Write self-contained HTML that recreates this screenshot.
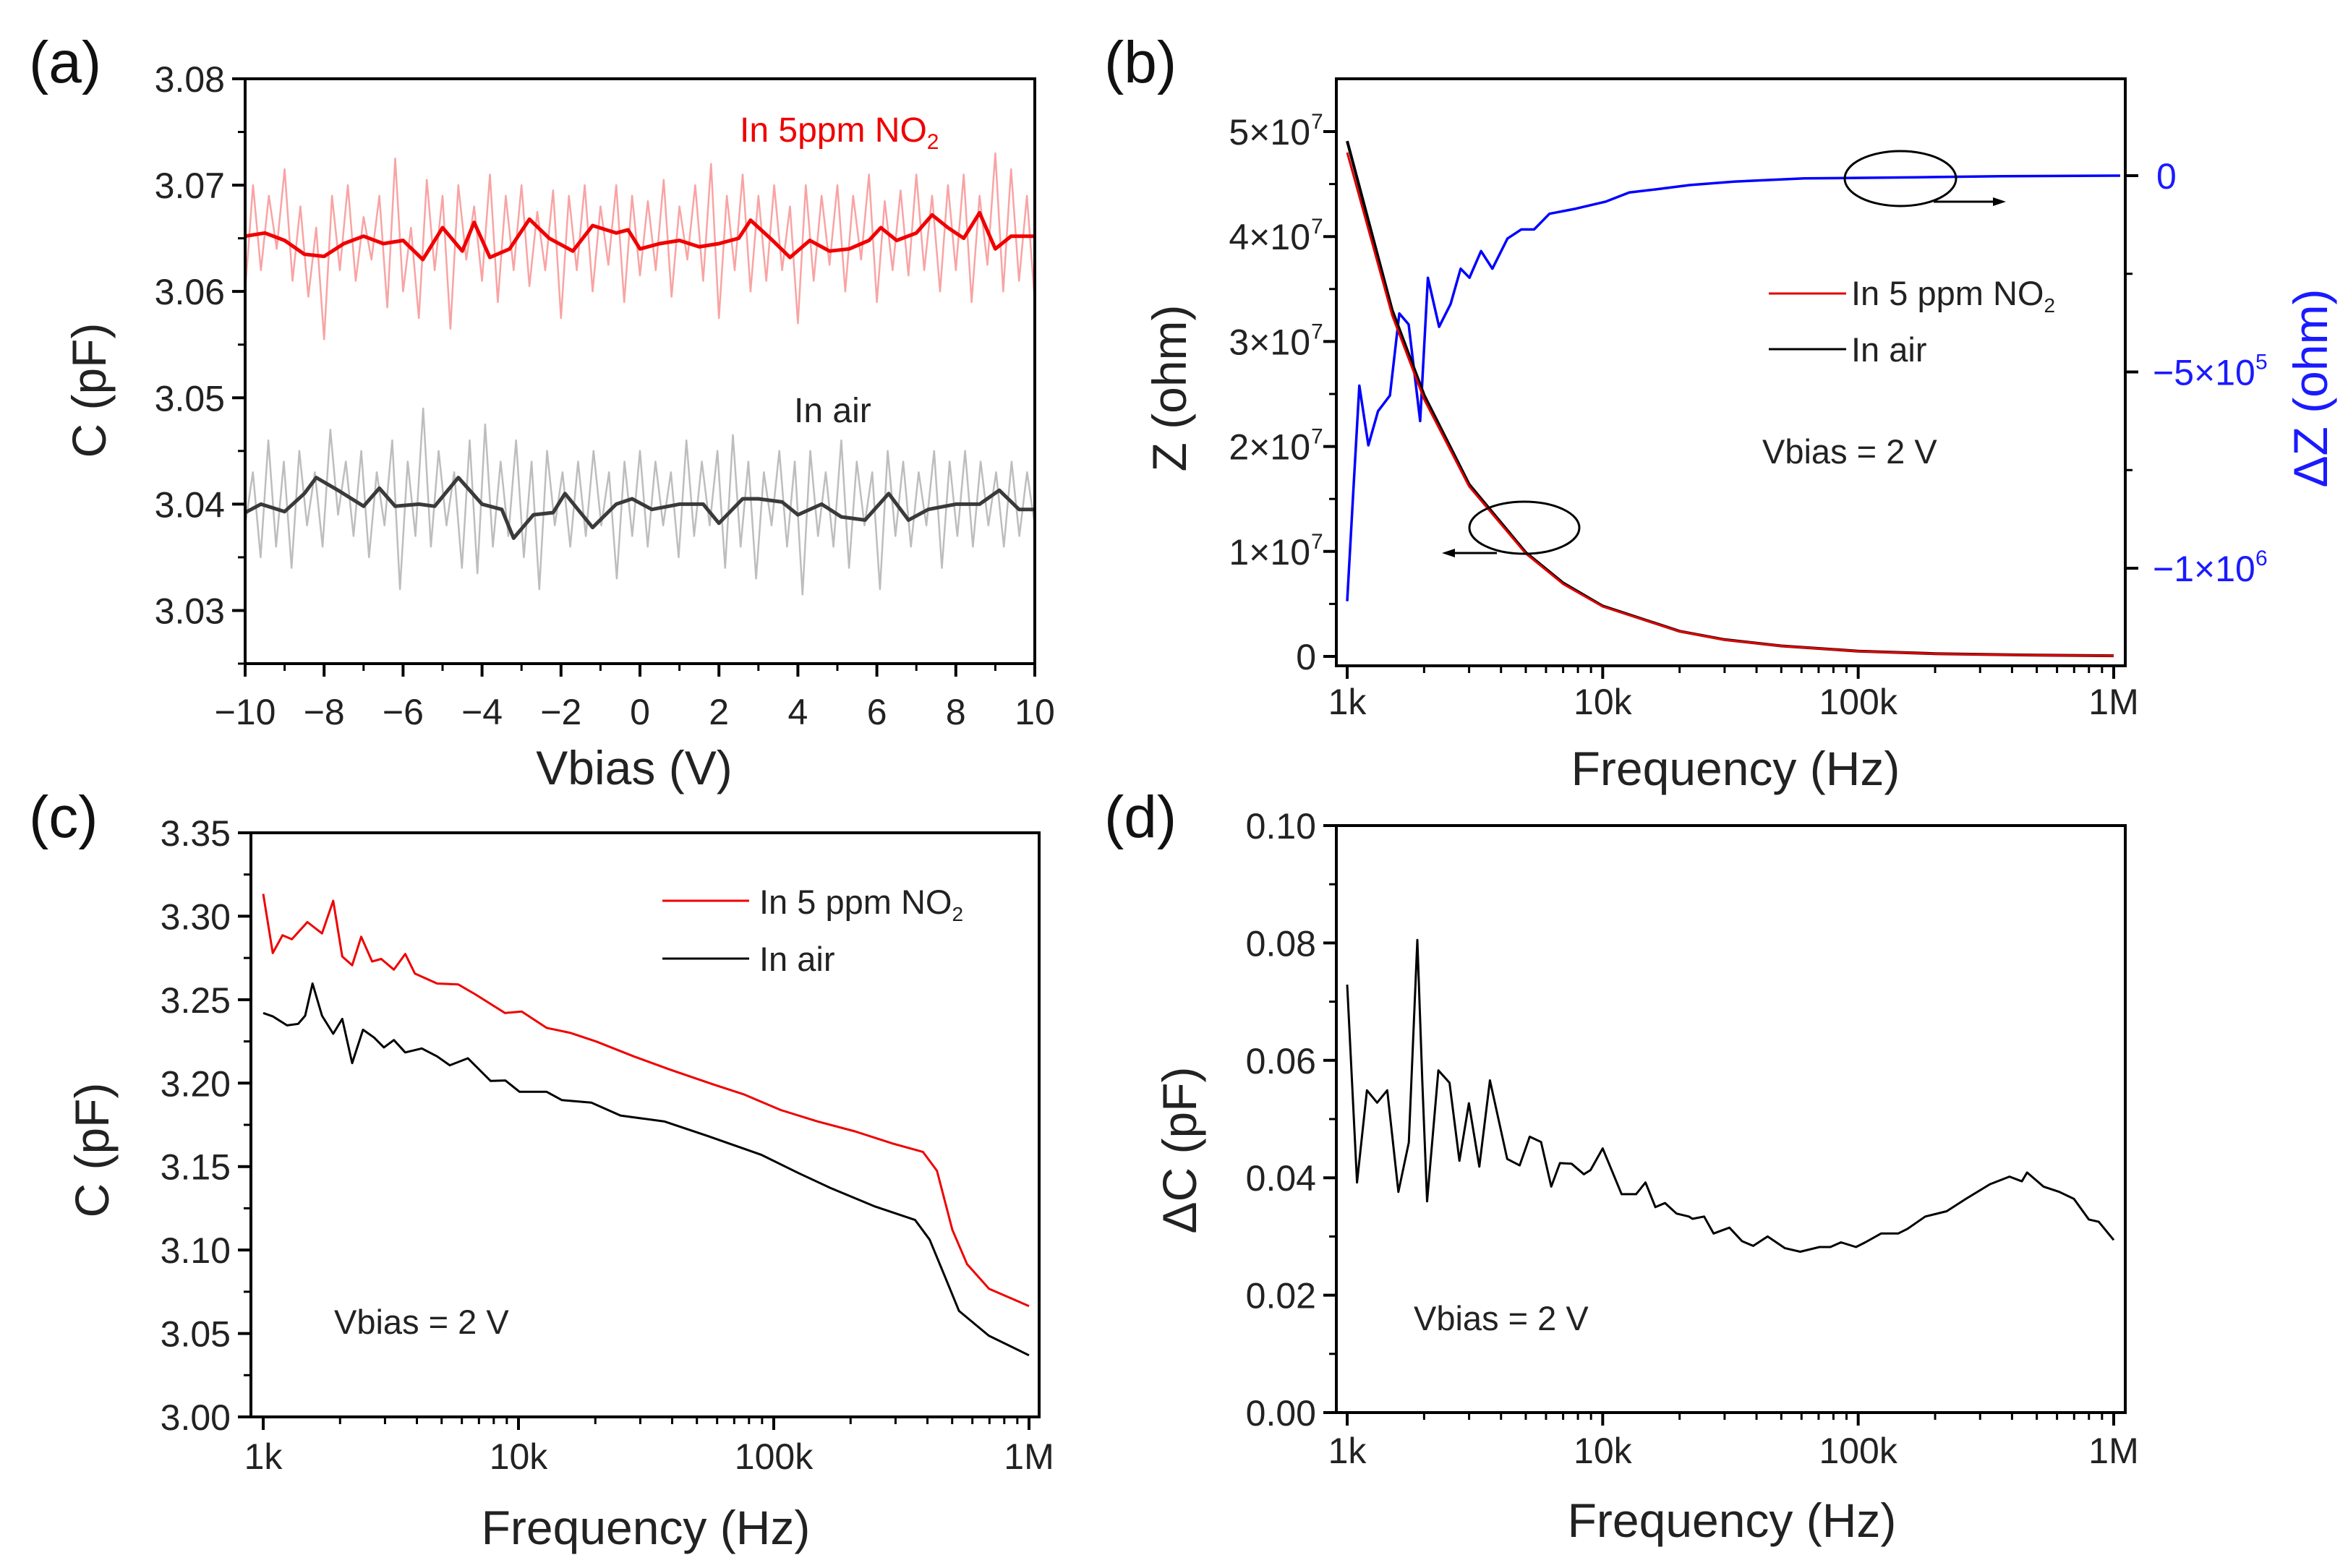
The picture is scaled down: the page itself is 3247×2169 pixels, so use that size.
<!DOCTYPE html>
<html><head><meta charset="utf-8"><style>
html,body{margin:0;padding:0;background:#fff;}
svg{display:block;}
text{font-family:"Liberation Sans",sans-serif;}
</style></head><body>
<svg id="fig" width="3247" height="2169" viewBox="0 0 3247 2169" xmlns="http://www.w3.org/2000/svg"></svg>
<script>
// ---------- Panel (a) data ----------
const aRedSmoothX=[-10,-9.5,-9,-8.5,-8,-7.5,-7,-6.5,-6,-5.5,-5,-4.5,-4.2,-3.8,-3.3,-2.8,-2.3,-1.7,-1.2,-0.6,-0.3,0,0.5,1,1.5,2,2.5,2.8,3.3,3.8,4.3,4.8,5.3,5.8,6.1,6.5,7,7.4,7.8,8.2,8.6,9,9.4,10];
const aRedSmoothY=[3.0652,3.0655,3.0648,3.0635,3.0633,3.0645,3.0652,3.0645,3.0648,3.0630,3.0660,3.0638,3.0665,3.0632,3.0640,3.0668,3.0650,3.0638,3.0662,3.0655,3.0658,3.0640,3.0645,3.0648,3.0642,3.0645,3.0650,3.0667,3.0650,3.0632,3.0648,3.0638,3.0640,3.0648,3.0660,3.0648,3.0655,3.0672,3.0660,3.0650,3.0674,3.0640,3.0652,3.0652];
const aAirSmoothX=[-10,-9.6,-9,-8.5,-8.2,-7.6,-7,-6.6,-6.2,-5.6,-5.2,-4.6,-4,-3.5,-3.2,-2.7,-2.2,-1.9,-1.2,-0.6,-0.2,0.3,1,1.6,2,2.6,3,3.6,4,4.6,5.1,5.7,6.3,6.8,7.3,8,8.6,9.1,9.6,10];
const aAirSmoothY=[3.0392,3.0400,3.0393,3.0410,3.0425,3.0412,3.0398,3.0415,3.0398,3.0400,3.0398,3.0425,3.0400,3.0395,3.0368,3.0390,3.0392,3.0410,3.0378,3.0400,3.0405,3.0395,3.0400,3.0400,3.0382,3.0405,3.0405,3.0402,3.0390,3.0400,3.0388,3.0385,3.0410,3.0385,3.0395,3.0400,3.0400,3.0413,3.0395,3.0395];
const aRedRaw=[3.0600,3.0700,3.0620,3.0690,3.0640,3.0715,3.0610,3.0680,3.0595,3.0660,3.0555,3.0690,3.0620,3.0700,3.0610,3.0670,3.0630,3.0690,3.0585,3.0725,3.0600,3.0660,3.0575,3.0705,3.0620,3.0690,3.0565,3.0700,3.0630,3.0680,3.0610,3.0710,3.0590,3.0690,3.0620,3.0700,3.0605,3.0675,3.0620,3.0695,3.0575,3.0690,3.0620,3.0700,3.0600,3.0680,3.0625,3.0700,3.0590,3.0690,3.0615,3.0685,3.0620,3.0705,3.0595,3.0680,3.0630,3.0700,3.0610,3.0720,3.0575,3.0690,3.0620,3.0710,3.0600,3.0690,3.0610,3.0700,3.0620,3.0680,3.0570,3.0700,3.0610,3.0690,3.0625,3.0700,3.0600,3.0690,3.0630,3.0710,3.0590,3.0685,3.0620,3.0695,3.0615,3.0710,3.0620,3.0690,3.0600,3.0700,3.0620,3.0710,3.0590,3.0690,3.0625,3.0730,3.0600,3.0715,3.0610,3.0690,3.0590];
const aAirRaw=[3.0380,3.0430,3.0350,3.0460,3.0360,3.0440,3.0340,3.0450,3.0380,3.0430,3.0360,3.0470,3.0390,3.0440,3.0370,3.0450,3.0350,3.0430,3.0380,3.0460,3.0320,3.0440,3.0370,3.0490,3.0360,3.0450,3.0380,3.0430,3.0340,3.0460,3.0335,3.0475,3.0360,3.0440,3.0370,3.0460,3.0350,3.0440,3.0320,3.0450,3.0380,3.0430,3.0360,3.0440,3.0370,3.0450,3.0380,3.0430,3.0330,3.0440,3.0370,3.0450,3.0360,3.0440,3.0380,3.0430,3.0350,3.0460,3.0370,3.0440,3.0380,3.0450,3.0340,3.0465,3.0360,3.0440,3.0330,3.0430,3.0380,3.0450,3.0360,3.0440,3.0315,3.0450,3.0370,3.0430,3.0360,3.0460,3.0340,3.0440,3.0380,3.0430,3.0320,3.0450,3.0370,3.0440,3.0360,3.0430,3.0380,3.0450,3.0340,3.0440,3.0370,3.0450,3.0360,3.0440,3.0380,3.0430,3.0360,3.0440,3.0370,3.0430,3.0380];
const aXTicks=[-10,-8,-6,-4,-2,0,2,4,6,8,10];
const aXLabels=["\u221210","\u22128","\u22126","\u22124","\u22122","0","2","4","6","8","10"];
const aYTicks=[3.03,3.04,3.05,3.06,3.07,3.08];
const aYLabels=["3.03","3.04","3.05","3.06","3.07","3.08"];

// ---------- Panel (b) data ----------
const bFreq=[1000,1500,2000,3000,5000,7000,10000,20000,30000,50000,100000,200000,500000,1000000];
const bZair=[4.91e7,3.3e7,2.49e7,1.64e7,9.9e6,7.0e6,4.8e6,2.4e6,1.6e6,1.0e6,5.0e5,2.6e5,1.2e5,6e4];
const bZno2=[4.80e7,3.25e7,2.45e7,1.62e7,9.8e6,6.9e6,4.75e6,2.38e6,1.58e6,9.9e5,4.9e5,2.5e5,1.1e5,5e4];
const bDzFreq=[1000,1056,1116,1210,1320,1470,1600,1740,1930,2070,2290,2540,2780,3010,3340,3700,4240,4800,5390,6190,7860,10300,12700,16100,21900,33000,61400,170000,364000,1060000];
const bDz=[-1.084e6,-8.06e5,-5.35e5,-6.87e5,-6.0e5,-5.6e5,-3.51e5,-3.79e5,-6.25e5,-2.6e5,-3.85e5,-3.27e5,-2.37e5,-2.6e5,-1.92e5,-2.37e5,-1.6e5,-1.37e5,-1.37e5,-9.7e4,-8.4e4,-6.6e4,-4.3e4,-3.5e4,-2.4e4,-1.5e4,-7e3,-4e3,-1.5e3,0];
const bYTicks=[0,1e7,2e7,3e7,4e7,5e7];
const bYMant=["0","1","2","3","4","5"];
const bRTicks=[0,-5e5,-1e6];

// ---------- Panel (c) data ----------
const cNo2F=[1000,1090,1190,1295,1490,1700,1880,2040,2230,2420,2670,2900,3250,3600,3930,4800,5810,6780,8860,10300,12900,15900,20200,28300,39400,58400,76300,106500,149000,208000,293000,384000,436000,501000,572000,697000,1000000];
const cNo2C=[3.3134,3.2779,3.2886,3.2862,3.2965,3.2897,3.3093,3.2759,3.2706,3.2877,3.2729,3.2744,3.2680,3.2774,3.2656,3.2597,3.2591,3.2532,3.2420,3.2429,3.2331,3.2302,3.2249,3.2160,3.2080,3.1991,3.1933,3.1839,3.1770,3.1711,3.1638,3.1588,3.1475,3.1121,3.0915,3.0768,3.0664];
const cAirF=[1000,1090,1240,1370,1460,1560,1700,1880,2040,2230,2460,2720,2970,3250,3600,4180,4800,5380,6340,7780,8880,10100,12900,14800,19300,25100,37400,55400,89600,125000,166000,247000,358000,408000,464000,532000,696000,1000000];
const cAirC=[3.2420,3.2400,3.2346,3.2355,3.2404,3.2597,3.2404,3.2296,3.2385,3.2120,3.2320,3.2273,3.2214,3.2258,3.2184,3.2208,3.2160,3.2107,3.2149,3.2013,3.2016,3.1948,3.1948,3.1898,3.1883,3.1806,3.1770,3.1682,3.1570,3.1461,3.1373,3.1263,3.1180,3.1062,3.0856,3.0635,3.0487,3.0369];
const cYTicks=[3.00,3.05,3.10,3.15,3.20,3.25,3.30,3.35];
const cYLabels=["3.00","3.05","3.10","3.15","3.20","3.25","3.30","3.35"];

// ---------- Panel (d) data ----------
const dF=[1000,1093,1195,1310,1435,1586,1742,1882,1970,2055,2275,2515,2750,2995,3290,3620,4230,4730,5180,5740,6290,6800,7550,8440,8960,10000,11860,13510,14700,16080,17530,19450,21740,22460,24940,27160,31340,35090,38840,44200,51690,59300,70580,77850,85640,98000,106600,122900,143300,156000,183000,222000,264000,328000,391000,437000,458000,531000,612000,699000,799000,874000,1000000];
const dDC=[0.0729,0.0392,0.0549,0.0528,0.0549,0.0376,0.0460,0.0805,0.0560,0.0360,0.0583,0.0562,0.0429,0.0527,0.0419,0.0566,0.0432,0.0421,0.0470,0.0461,0.0385,0.0425,0.0424,0.0406,0.0413,0.0450,0.0372,0.0372,0.0392,0.0350,0.0357,0.0339,0.0334,0.0330,0.0334,0.0305,0.0315,0.0292,0.0284,0.0300,0.0280,0.0274,0.0282,0.0282,0.0290,0.0282,0.0290,0.0305,0.0305,0.0313,0.0334,0.0343,0.0364,0.0389,0.0402,0.0394,0.0409,0.0385,0.0376,0.0364,0.0329,0.0325,0.0294];
const dYTicks=[0,0.02,0.04,0.06,0.08,0.10];
const dYLabels=["0.00","0.02","0.04","0.06","0.08","0.10"];

const fXTicks=[1e3,1e4,1e5,1e6];
const fXLabels=["1k","10k","100k","1M"];

const NS="http://www.w3.org/2000/svg";
const svg=document.getElementById('fig');
function el(tag,attrs,parent){const e=document.createElementNS(NS,tag);for(const k in attrs)e.setAttribute(k,attrs[k]);(parent||svg).appendChild(e);return e;}
function txt(str,x,y,size,anchor,fill,parent,rot){
  const t=el('text',{x:x,y:y,'font-size':size,'text-anchor':anchor||'start',fill:fill||'#222'},parent);
  if(rot)t.setAttribute('transform',`rotate(${rot},${x},${y})`);
  t.textContent=str;return t;
}
function sub(t,str,size,dy){const s=el('tspan',{'font-size':size,dy:dy},t);s.textContent=str;return s;}
function linX(a,b,p0,p1){return v=>p0+(v-a)/(b-a)*(p1-p0);}
function logX(a,b,p0,p1){return v=>p0+(Math.log10(v)-Math.log10(a))/(Math.log10(b)-Math.log10(a))*(p1-p0);}
function poly(xs,ys,fx,fy,stroke,w,parent,name){
  const p=el('polyline',{points:xs.map((x,i)=>fx(x).toFixed(1)+','+fy(ys[i]).toFixed(1)).join(' '),fill:'none',stroke:stroke,'stroke-width':w,'stroke-linejoin':'round'},parent);
  
  
  return p;
}
function frame(L,T,R,B,parent){el('rect',{x:L,y:T,width:R-L,height:B-T,fill:'none',stroke:'#000','stroke-width':4},parent);}
const MJ=18, MN=10;
function logMinor(fx,B,parent){
  for(let d=3;d<6;d++)for(let m=2;m<10;m++){const x=fx(m*Math.pow(10,d));el('line',{x1:x,y1:B,x2:x,y2:B+MN,stroke:'#000','stroke-width':3},parent);}
}
function panelLabel(s,x,y){const t=txt(s,x,y,82,'start','#111');}
const TS=50, LS=47, AS=66;

// ===== Panel (a) =====
(function(){
  const g=el('g',{});
  const L=339,R=1431,T=109,B=918;
  const fx=linX(-10,10,L,R), fy=linX(3.025,3.08,B,T);
  poly(aRedRaw.map((v,i)=>-10+20*i/(aRedRaw.length-1)),aRedRaw,fx,fy,'#f9a3a3',2.5,g,'no2-raw-line');
  poly(aAirRaw.map((v,i)=>-10+20*i/(aAirRaw.length-1)),aAirRaw,fx,fy,'#bdbdbd',2.5,g,'air-raw-line');
  poly(aRedSmoothX,aRedSmoothY,fx,fy,'#f00000',5,g,'no2-smoothed-line');
  poly(aAirSmoothX,aAirSmoothY,fx,fy,'#3a3a3a',5,g,'air-smoothed-line');
  frame(L,T,R,B,g);
  aYTicks.forEach((v,i)=>{const y=fy(v);el('line',{x1:L-MJ,y1:y,x2:L,y2:y,stroke:'#000','stroke-width':4},g);const t=txt(aYLabels[i],L-28,y+18,TS,'end','#222',g);});
  for(let v=3.025;v<3.08;v+=0.01){const y=fy(v);el('line',{x1:L-MN,y1:y,x2:L,y2:y,stroke:'#000','stroke-width':3},g);}
  aXTicks.forEach((v,i)=>{const x=fx(v);el('line',{x1:x,y1:B,x2:x,y2:B+MJ,stroke:'#000','stroke-width':4},g);const t=txt(aXLabels[i],x,1002,TS,'middle','#222',g);});
  for(let v=-9;v<10;v+=2){const x=fx(v);el('line',{x1:x,y1:B,x2:x,y2:B+MN,stroke:'#000','stroke-width':3},g);}
  let t=txt('Vbias (V)',877,1085,AS,'middle','#222',g);
  t=txt('C (pF)',146,540,AS,'middle','#222',g,-90);
  t=txt('In 5ppm NO',1023,196,48,'start','#f00000',g);sub(t,'2',30,10);
  t=txt('In air',1098,584,48,'start','#222',g);
})();
panelLabel('(a)',40,114);

// ===== Panel (b) =====
(function(){
  const g=el('g',{});
  const L=1848,R=2939,T=109,B=921;
  const fx=logX(1e3,1e6,1863,2923), fy=linX(0,5e7,908,182);
  const fyr=linX(0,-1e6,243,786);
  poly(bDzFreq,bDz,fx,fyr,'#0000ff',3.5,g,'delta-z-line');
  poly(bFreq,bZair,fx,fy,'#000',4,g,'z-air-line');
  poly(bFreq,bZno2,fx,fy,'#e00000',3,g,'z-no2-line');
  frame(L,T,R,B,g);
  bYTicks.forEach((v,i)=>{const y=fy(v);el('line',{x1:L-MJ,y1:y,x2:L,y2:y,stroke:'#000','stroke-width':4},g);
    if(i===0){const t=txt('0',L-28,y+18,TS,'end','#222',g);}
    else{const t=txt(bYMant[i]+'\u00d710',L-36,y+18,TS,'end','#222',g);
      const e=txt('7',L-35,y-4,30,'start','#222',g);}
  });
  for(let v=0.5e7;v<5.2e7;v+=1e7){const y=fy(v);el('line',{x1:L-MN,y1:y,x2:L,y2:y,stroke:'#000','stroke-width':3},g);}
  bRTicks.forEach(v=>{const y=fyr(v);el('line',{x1:R,y1:y,x2:R+MJ,y2:y,stroke:'#000','stroke-width':4},g);});
  [-2.5e5,-7.5e5].forEach(v=>{const y=fyr(v);el('line',{x1:R,y1:y,x2:R+MN,y2:y,stroke:'#000','stroke-width':3},g);});
  let t=txt('0',2982,fyr(0)+18,TS,'start','#1a1aff',g);
  t=txt('\u22125\u00d710',2977,fyr(-5e5)+18,TS,'start','#1a1aff',g);
  t=txt('5',3119,fyr(-5e5)-4,30,'start','#1a1aff',g);
  t=txt('\u22121\u00d710',2977,fyr(-1e6)+18,TS,'start','#1a1aff',g);
  t=txt('6',3119,fyr(-1e6)-4,30,'start','#1a1aff',g);
  fXTicks.forEach((v,i)=>{const x=fx(v);el('line',{x1:x,y1:B,x2:x,y2:B+MJ,stroke:'#000','stroke-width':4},g);const t=txt(fXLabels[i],x,988,TS,'middle','#222',g);});
  logMinor(fx,B,g);
  t=txt('Frequency (Hz)',2400,1086,AS,'middle','#222',g);
  t=txt('Z (ohm)',1640,537,AS,'middle','#222',g,-90);
  t=txt('\u0394Z (ohm)',3218,537,AS,'middle','#1a1aff',g,-90);
  let l=el('line',{x1:2446,y1:406,x2:2553,y2:406,stroke:'#e00000','stroke-width':3},g);
  t=txt('In 5 ppm NO',2560,422,LS,'start','#222',g);sub(t,'2',28,10);
  l=el('line',{x1:2446,y1:483,x2:2553,y2:483,stroke:'#000','stroke-width':3},g);
  t=txt('In air',2560,500,LS,'start','#222',g);
  t=txt('Vbias = 2 V',2437,641,LS,'start','#222',g);
  let e=el('ellipse',{cx:2628,cy:247,rx:77,ry:38,fill:'none',stroke:'#000','stroke-width':3},g);
  el('line',{x1:2674,y1:279,x2:2760,y2:279,stroke:'#000','stroke-width':3},g);
  el('polygon',{points:'2774,279 2756,273 2756,285',fill:'#000'},g);
  e=el('ellipse',{cx:2108,cy:730,rx:76,ry:36,fill:'none',stroke:'#000','stroke-width':3},g);
  el('line',{x1:2070,y1:765,x2:2008,y2:765,stroke:'#000','stroke-width':3},g);
  el('polygon',{points:'1994,765 2012,759 2012,771',fill:'#000'},g);
})();
panelLabel('(b)',1527,114);

// ===== Panel (c) =====
(function(){
  const g=el('g',{});
  const L=347,R=1437,T=1152,B=1960;
  const fx=logX(1e3,1e6,364,1423), fy=linX(3.0,3.35,B,T);
  poly(cNo2F,cNo2C,fx,fy,'#f00000',3,g,'no2-capacitance-line');
  poly(cAirF,cAirC,fx,fy,'#000',3,g,'air-capacitance-line');
  frame(L,T,R,B,g);
  cYTicks.forEach((v,i)=>{const y=fy(v);el('line',{x1:L-MJ,y1:y,x2:L,y2:y,stroke:'#000','stroke-width':4},g);const t=txt(cYLabels[i],L-28,y+18,TS,'end','#222',g);});
  for(let v=3.025;v<3.35;v+=0.05){const y=fy(v);el('line',{x1:L-MN,y1:y,x2:L,y2:y,stroke:'#000','stroke-width':3},g);}
  fXTicks.forEach((v,i)=>{const x=fx(v);el('line',{x1:x,y1:B,x2:x,y2:B+MJ,stroke:'#000','stroke-width':4},g);const t=txt(fXLabels[i],x,2032,TS,'middle','#222',g);});
  logMinor(fx,B,g);
  let t=txt('Frequency (Hz)',893,2136,AS,'middle','#222',g);
  t=txt('C (pF)',150,1591,AS,'middle','#222',g,-90);
  let l=el('line',{x1:916,y1:1246,x2:1036,y2:1246,stroke:'#f00000','stroke-width':3},g);
  t=txt('In 5 ppm NO',1050,1264,LS,'start','#222',g);sub(t,'2',28,10);
  l=el('line',{x1:916,y1:1326,x2:1036,y2:1326,stroke:'#000','stroke-width':3},g);
  t=txt('In air',1050,1343,LS,'start','#222',g);
  t=txt('Vbias = 2 V',462,1845,LS,'start','#222',g);
})();
panelLabel('(c)',40,1158);

// ===== Panel (d) =====
(function(){
  const g=el('g',{});
  const L=1848,R=2939,T=1142,B=1954;
  const fx=logX(1e3,1e6,1863,2923), fy=linX(0,0.10,B,T);
  poly(dF,dDC,fx,fy,'#000',3,g,'delta-c-line');
  frame(L,T,R,B,g);
  dYTicks.forEach((v,i)=>{const y=fy(v);el('line',{x1:L-MJ,y1:y,x2:L,y2:y,stroke:'#000','stroke-width':4},g);const t=txt(dYLabels[i],L-28,y+18,TS,'end','#222',g);});
  for(let v=0.01;v<0.1;v+=0.02){const y=fy(v);el('line',{x1:L-MN,y1:y,x2:L,y2:y,stroke:'#000','stroke-width':3},g);}
  fXTicks.forEach((v,i)=>{const x=fx(v);el('line',{x1:x,y1:B,x2:x,y2:B+MJ,stroke:'#000','stroke-width':4},g);const t=txt(fXLabels[i],x,2024,TS,'middle','#222',g);});
  logMinor(fx,B,g);
  let t=txt('Frequency (Hz)',2395,2126,AS,'middle','#222',g);
  t=txt('\u0394C (pF)',1654,1591,AS,'middle','#222',g,-90);
  t=txt('Vbias = 2 V',1955,1840,LS,'start','#222',g);
})();
panelLabel('(d)',1527,1158);
</script>
</body></html>
